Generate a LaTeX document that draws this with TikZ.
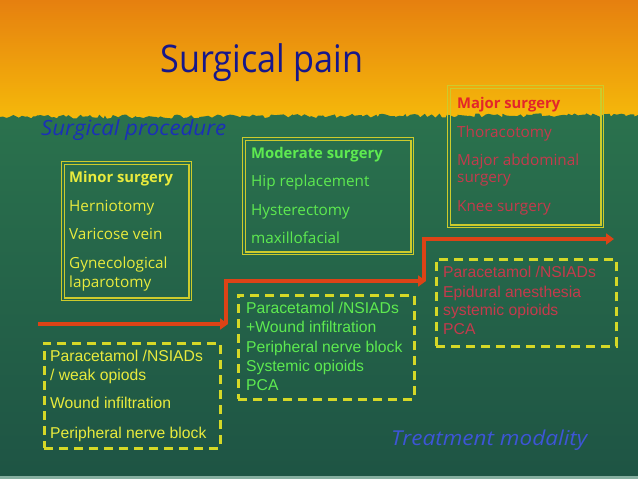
\documentclass[tikz,border=0pt]{standalone}
\usepackage{fontspec}
\setmainfont{Open Sans}
\newfontfamily\arialf{Liberation Sans}
\usetikzlibrary{arrows.meta,decorations.pathmorphing}
\definecolor{orTop}{HTML}{E6800F}
\definecolor{orBot}{HTML}{F6BC0A}
\definecolor{grTop}{HTML}{2E7B50}
\definecolor{grBot}{HTML}{1E5444}
\definecolor{stripC}{HTML}{86AFA0}
\definecolor{titleBlue}{HTML}{17178A}
\definecolor{procBlue}{HTML}{1B2FB8}
\definecolor{treatBlue}{HTML}{3D55D6}
\definecolor{frameY}{HTML}{CDCB2C}
\definecolor{minorY}{HTML}{E9EB3D}
\definecolor{modG}{HTML}{5EEA50}
\definecolor{majR}{HTML}{E3262A}
\definecolor{majRd}{HTML}{C43A4C}
\definecolor{dashY}{HTML}{D5D827}
\definecolor{arrowR}{HTML}{DD4316}
\begin{document}
\begin{tikzpicture}[x=1pt,y=-1pt,
  frameouter/.style={draw=frameY, line width=1.3pt, inner sep=0, anchor=north west},
  frameinner/.style={draw=frameY, line width=1.3pt},
  dashbox/.style={draw=dashY, line width=2.6pt, dash pattern=on 9pt off 6pt, inner sep=0, anchor=north west},
  redarrow/.style={draw=arrowR, line width=3.8pt, -{Triangle[length=8pt,width=11pt]}},
  cs/.style={inner sep=0, anchor=base west, font=\fontsize{15.3}{18}\selectfont},
  csb/.style={cs, font=\bfseries\fontsize{14.8}{18}\selectfont},
  ar/.style={inner sep=0, anchor=base west, font=\arialf\fontsize{15.7}{18}\selectfont}
]
\useasboundingbox (0,0) rectangle (638,479);
% background
\shade[top color=orTop, bottom color=orBot] (0,0) rectangle (638,125);
\pgfmathsetseed{7}
\shade[top color=grTop, bottom color=grBot]
  decorate[decoration={random steps,segment length=3pt,amplitude=2pt}]{(0,117) -- (638,115)}
  -- (638,479) -- (0,479) -- cycle;
\fill[stripC] (0,475.5) rectangle (638,479);

% title and labels
\node[inner sep=0, text=titleBlue, font=\fontsize{38}{44}\selectfont, anchor=base] (title) at (262,72) {\scalebox{0.9}[1]{Surgical pain}};
\node[inner sep=0, text=procBlue, font=\itshape\fontsize{21}{24}\selectfont, anchor=base west] (proc) at (41,135) {\scalebox{1.06}[1]{Surgical procedure}};
\node[inner sep=0, text=treatBlue, font=\itshape\fontsize{20.5}{24}\selectfont, anchor=base west] (treat) at (391,445) {\scalebox{1.1}[1]{Treatment modality}};

% surgery boxes
\node[frameouter, minimum width=130pt, minimum height=139pt] (minor) at (61,161) {};
\draw[frameinner] ([shift={(3.4,3.4)}]minor.north west) rectangle ([shift={(-3.4,-3.4)}]minor.south east);
\node[csb, text=minorY] (mi1) at (69,182) {Minor surgery};
\node[cs, text=minorY] (mi2) at (69,211) {Herniotomy};
\node[cs, text=minorY] (mi3) at (69,239) {Varicose vein};
\node[cs, text=minorY] (mi4) at (69,268) {Gynecological};
\node[cs, text=minorY] (mi5) at (69,287) {laparotomy};

\node[frameouter, minimum width=171pt, minimum height=117pt] (moder) at (242,137) {};
\draw[frameinner] ([shift={(3.4,3.4)}]moder.north west) rectangle ([shift={(-3.4,-3.4)}]moder.south east);
\node[csb, text=modG] (mo1) at (251,158) {Moderate surgery};
\node[cs, text=modG] (mo2) at (251,186) {Hip replacement};
\node[cs, text=modG] (mo3) at (251,215) {Hysterectomy};
\node[cs, text=modG] (mo4) at (251,243) {maxillofacial};

\node[frameouter, minimum width=156pt, minimum height=142pt] (major) at (447,85) {};
\draw[frameinner] ([shift={(3.4,3.4)}]major.north west) rectangle ([shift={(-3.4,-3.4)}]major.south east);
\node[csb, text=majR] (ma1) at (457,108) {Major surgery};
\node[cs, text=majRd] (ma2) at (457,137) {Thoracotomy};
\node[cs, text=majRd] (ma3) at (457,165) {Major abdominal};
\node[cs, text=majRd] (ma4) at (457,182) {surgery};
\node[cs, text=majRd] (ma5) at (457,211) {Knee surgery};

% staircase arrows
\coordinate (a0) at (38,324);
\coordinate (a1) at (228,324);
\coordinate (b1) at (226,324);
\coordinate (a2) at (226,281);
\coordinate (a3) at (426,281);
\coordinate (b2) at (424,281);
\coordinate (a4) at (424,239);
\coordinate (a5) at (614,239);
\draw[redarrow] (a0) -- (a1);
\draw[redarrow] (b1) -- (a2) -- (a3);
\draw[redarrow] (b2) -- (a4) -- (a5);

% treatment boxes
\node[dashbox, minimum width=176pt, minimum height=105pt] (t1) at (43,342) {};
\node[ar, text=minorY] (t11) at (50,361) {Paracetamol /NSIADs};
\node[ar, text=minorY] (t12) at (50,380) {/ weak opiods};
\node[ar, text=minorY] (t13) at (50,408) {Wound infiltration};
\node[ar, text=minorY] (t14) at (50,438) {Peripheral nerve block};

\node[dashbox, minimum width=176pt, minimum height=104pt] (t2) at (237,294) {};
\node[ar, text=modG] (t21) at (246,313) {Paracetamol /NSIADs};
\node[ar, text=modG] (t22) at (246,332) {+Wound infiltration};
\node[ar, text=modG] (t23) at (246,352) {Peripheral nerve block};
\node[ar, text=modG] (t24) at (246,371) {Systemic opioids};
\node[ar, text=modG] (t25) at (246,390) {PCA};

\node[dashbox, minimum width=180pt, minimum height=87pt] (t3) at (435,258) {};
\node[ar, text=majRd] (t31) at (443,277) {Paracetamol /NSIADs};
\node[ar, text=majRd] (t32) at (443,297) {Epidural anesthesia};
\node[ar, text=majRd] (t33) at (443,315) {systemic opioids};
\node[ar, text=majRd] (t34) at (443,334) {PCA};
\end{tikzpicture}
\end{document}
